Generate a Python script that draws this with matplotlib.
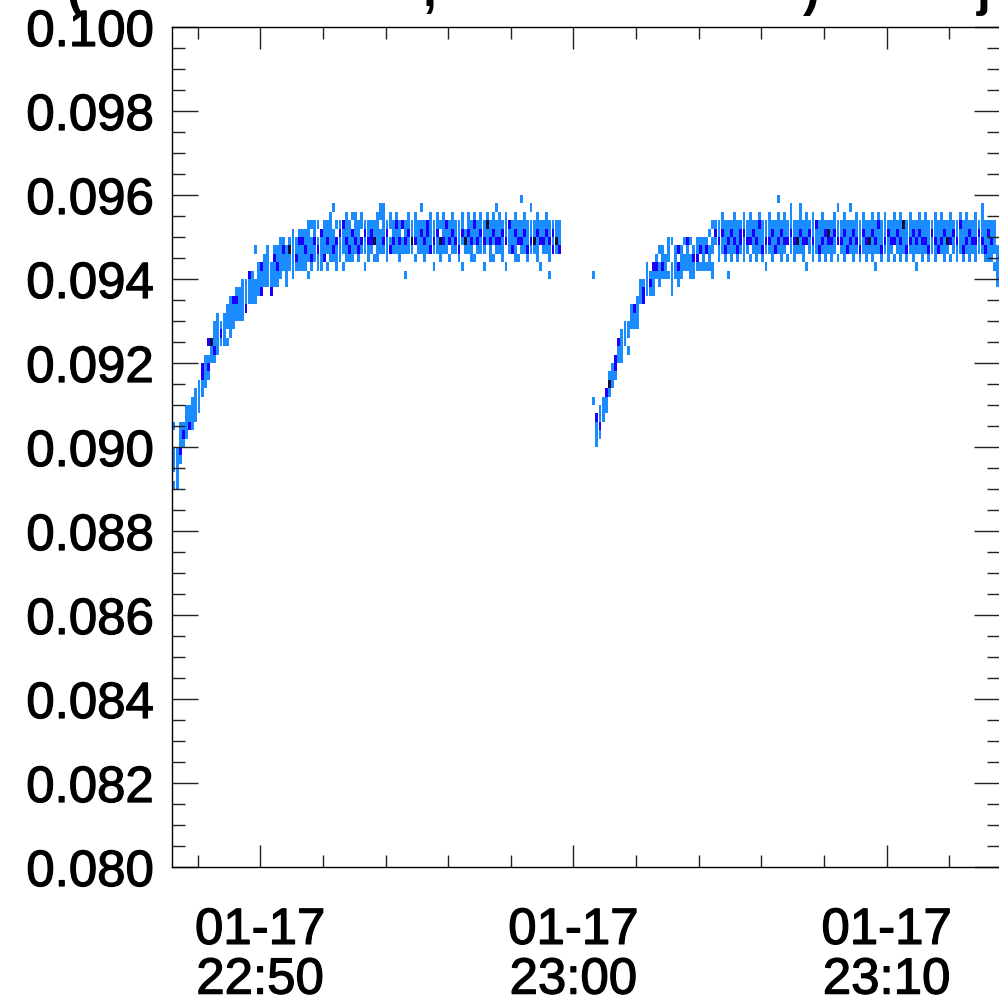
import matplotlib
matplotlib.use('Agg')
import matplotlib.pyplot as plt
import matplotlib.dates as mdates
import matplotlib.patheffects as pe
from matplotlib.ticker import MultipleLocator, FormatStrFormatter
from datetime import datetime, timedelta

plt.rcParams['font.family'] = ['Liberation Sans', 'DejaVu Sans']

# 2D histogram of the signal: 6 s wide time bins, 0.0002 tall value bins
bin_start = datetime(2015, 1, 17, 22, 47, 12)
bin_seconds = 6
bin_height = 0.0002

# one token per time bin: "lowest bin centre (x 1e-4):counts going up"
# tokens without a base start at 0.0941
seg1_first_bin = 0
seg1_bins = """
891:10111001 891:11111 897:12111 901:121 903:1111 905:211 905:1111 907:1111
909:1111 913:1122 915:1111 917:12102 921:113 921:12111 923:11111 925:121
925:1111 925:10111 927:11111 929:1112 931:1121 931:1111 931:11111 933:2111
935:1112 935:1111 935:1110001 937:1111 937:2112 939:1111 939:11111 937:2111
939:11121 939:11211 941:11111 941:01121 939:11111 943:1131 941:111111 943:1211
943:11121
0111210000 0112110000 1011111000 0121101000 0011211000 0112101000 0111120000
0021111000 0101211000 0011111100 0012110010 0111201000 0011121000 0101112000
0011211100 0012111000 0011120100 0001211100 0012111000 0001201100 0101121000
0011211000 0001221000 0010311000 0011111100 0001110110 0001211110 0011121000
0002101100 0001211000 0001112100 0011211000 0001102000 1001211000 0001121100
0001311000 0010211100 0001111000 0001121010 0011211000 0001122000 0002111100
0101211000 0001121100 0011301000 0001211100 0001112000 0010211000 0001121100
0001211000 0012111000 0100121100 0001310000 0001121100 0011211000 0010112100
0001211000 0001121100 0101211000 0000113100 0011211000 0010121100 0001211010
0001211100 0011121000 0100211100 0001112000 0002111000 0011121100 0010211000
0001211001 0001121100 0012111000 0001211010 0001311000 0011121100 0100211000
0001211000 0001121100 1011211000 0002121000 0001311000 0002111000
"""

seg2_first_bin = 134
seg2_bins = """
911:1000000000000001 901:1112 903:1211 907:111 909:112 913:131 915:111 917:122
921:112 921:1111 925:111 923:1011 929:111 929:112 929:1111 935:111 935:221
937:1111 937:121 937:1112 941:121 939:11101 941:1211 941:111 941:10111
937:1111001 941:1111 939:11202 941:1111 943:1101 943:1112 941:11101 941:1121
943:1211 943:1021 943:1111 943:1021 943:11101 941:1101101 949:121
0011211000 0001121100 0012111000 1001211000 0011121000 0001211100 0012111000
0001221000 0011121100 0001211000 0010211100 0001121000 0011211000 0001112100
0012111000 0101211000 0001211100 0011121000 0002111000 0001211101 0011121000
0001211100 0010211000 0001121110 0011211000 0001311000 0001121110 0011211000
0100211100 0001121000 0011211100 0001112000 0012111000 0001211100 0011121000
0001231000 0011211000 0001121100 0010211010 0001211000 0011121100 0002111000
0001211010 0011121000 0001211100 0012111000 0001121100 0011211000 0001311000
0011121100 0101211000 0001112100 0012111000 0001211100 0011121000 0001211000
0010211100 0001121000 0011211100 0001113000 0012111000 0001211100 0011121000
0101211000 0001121100 0011211000 0001211100 0012111000 0001121000 0011211100
0002111000 0001211100 0011121000 0001311000 0010211100 0001121000 0011211000
0001112100 0012111000 0001211100 0011121000 0001211000 0011211100 0001121000
0001211110 0012111000 0011121000 0011211000 0101111000 939:111110 941:11
"""

count_colors = ['#1a8cff', '#1a00ff', '#10103c']

# title fragments cut off at the top edge
title_bits = ['(', ',', ')', 'j']
title_bits_x = [75, 430, 811, 984]

fig = plt.figure(figsize=(9.99, 10.03), dpi=100)
ax = fig.add_axes([172 / 999, 135 / 1003, 828.5 / 999, 840 / 1003])

bar_x, bar_bottom, bar_color = [], [], []
for first, text in [(seg1_first_bin, seg1_bins), (seg2_first_bin, seg2_bins)]:
    for i, tok in enumerate(text.split()):
        if ':' in tok:
            base, counts = tok.split(':')
        else:
            base, counts = '941', tok
        t = bin_start + timedelta(seconds=bin_seconds * (first + i))
        for k, c in enumerate(counts):
            if c == '0':
                continue
            centre = (int(base) + 2 * k) * 1e-4
            bar_x.append(mdates.date2num(t))
            bar_bottom.append(centre - bin_height / 2)
            bar_color.append(count_colors[min(int(c), 3) - 1])

day_width = bin_seconds / 86400.0
ax.bar(bar_x, bin_height, width=day_width * 0.92, bottom=bar_bottom,
       align='edge', color=bar_color, linewidth=0)

ax.set_xlim(datetime(2015, 1, 17, 22, 47, 11), datetime(2015, 1, 17, 23, 13, 38))
ax.set_ylim(0.080, 0.100)

ax.xaxis.set_major_locator(mdates.MinuteLocator(byminute=range(0, 60, 10)))
ax.xaxis.set_minor_locator(mdates.MinuteLocator(byminute=range(0, 60, 2)))
ax.xaxis.set_major_formatter(mdates.DateFormatter('%m-%d\n%H:%M'))
ax.yaxis.set_major_locator(MultipleLocator(0.002))
ax.yaxis.set_minor_locator(MultipleLocator(0.0005))
ax.yaxis.set_major_formatter(FormatStrFormatter('%.3f'))

ax.tick_params(which='both', direction='in', top=True, right=True,
               width=1.0, color='#222222', labelsize=36.7)
ax.tick_params(axis='y', which='major', length=18.7, pad=13)
ax.tick_params(axis='y', which='minor', length=9.4)
ax.tick_params(axis='x', which='major', length=15.8, pad=28)
ax.tick_params(axis='x', which='minor', length=8.3)
for s in ax.spines.values():
    s.set_linewidth(1.0)

for txt, xp in zip(title_bits, title_bits_x):
    fig.text(xp / 999, 1 - 6 / 1003, txt, ha='center', va='baseline',
             fontsize=36, fontweight='bold')

fig.canvas.draw()
heavier = [pe.withStroke(linewidth=0.9, foreground='black')]
for lbl in ax.get_xticklabels():
    lbl.set_linespacing(1.02)
    lbl.set_path_effects(heavier)
for lbl in ax.get_yticklabels():
    lbl.set_path_effects(heavier)

fig.savefig('out.png', dpi=100)
